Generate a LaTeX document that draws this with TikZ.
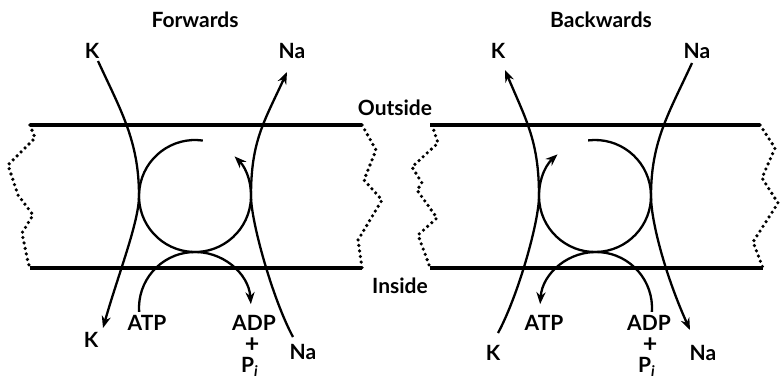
\documentclass[tikz,border=0pt]{standalone}
\usepackage{fontspec}
\setmainfont{Lato}
\usepackage{tikz}
\usetikzlibrary{arrows.meta}

\begin{document}
\begin{tikzpicture}[
  x=0.5pt, y=0.5pt,
  lbl/.style={font=\fontsize{10.5}{12}\selectfont\bfseries, inner sep=0pt},
  arr/.style={-{Stealth[length=6pt, width=4.6pt]}, line width=1.15pt},
  membrane/.style={line width=1.6pt},
  cut/.style={line width=1.8pt, line cap=round, dash pattern=on 0pt off 2.8pt}
]
\useasboundingbox (0,0) rectangle (780,-380);

% Forwards
\node[lbl] (fwd) at (195,-20) {Forwards};
\draw[membrane] (30,-125) -- (362,-125);
\draw[membrane] (30,-268) -- (362,-268);
\draw[cut] (30,-125) -- (35,-138) -- (8,-165) -- (18,-195) -- (33,-215)
  -- (22,-233) -- (28,-262) -- (30,-268);
\draw[cut] (362,-125) -- (376,-150) -- (364,-180) -- (382,-200)
  -- (358,-240) -- (362,-268);

\coordinate (pumpF) at (195,-196);
\coordinate (cupF)  at (195,-308);
\draw[arr] (pumpF) ++(82:56) arc[start angle=82, end angle=405, radius=56];
\draw[arr] (cupF) ++(184:56) arc[start angle=184, end angle=4, radius=56];

\node[lbl] (kFin)   at (92,-51)  {K};
\node[lbl] (kFout)  at (91,-340) {K};
\node[lbl] (naFout) at (292,-51) {Na};
\node[lbl] (naFin)  at (303,-352) {Na};
\node[lbl] (atpF)   at (147,-323) {ATP};
\node[lbl] (adpF)   at (254,-323) {ADP};
\node[lbl, font=\fontsize{12.5}{12.5}\selectfont\bfseries] (plusF) at (252,-345) {+};
\node[lbl] (piF)    at (250,-367) {P\textsubscript{\itshape i}};

\coordinate (kF1) at (98,-61);
\coordinate (kFmid) at (139,-196);
\coordinate (kF2) at (103,-328);
\draw[arr] (kF1) .. controls +(23,-50) and +(0,55) .. (kFmid)
  .. controls +(0,-26) and +(15,53) .. (kF2);

\coordinate (naF1) at (293,-337);
\coordinate (naFmid) at (251,-196);
\coordinate (naF2) at (287,-72);
\draw[arr] (naF1) .. controls +(-20,37) and +(0,-26) .. (naFmid)
  .. controls +(0,55) and +(-23,-50) .. (naF2);

\node[lbl] (outside) at (395,-108) {Outside};
\node[lbl] (inside)  at (400,-286) {Inside};

% Backwards
\node[lbl] (bwd) at (601,-20) {Backwards};
\draw[membrane] (430,-125) -- (760,-125);
\draw[membrane] (430,-268) -- (763,-268);
\draw[cut] (432,-125) -- (438,-143) -- (412,-167) -- (422,-183) -- (417,-190)
  -- (437,-218) -- (418,-235) -- (428,-262) -- (430,-268);
\draw[cut] (760,-125) -- (775,-148) -- (762,-178) -- (778,-203)
  -- (753,-242) -- (763,-268);

\coordinate (pumpB) at (595,-196);
\coordinate (cupB)  at (596,-308);
\draw[arr] (pumpB) ++(97:56) arc[start angle=97, end angle=-228, radius=56];
\draw[arr] (cupB) ++(-4:56) arc[start angle=-4, end angle=176, radius=56];

\node[lbl] (kBout)  at (498,-51)  {K};
\node[lbl] (kBin)   at (493,-353) {K};
\node[lbl] (naBin)  at (697,-51)  {Na};
\node[lbl] (naBout) at (703,-353) {Na};
\node[lbl] (atpB)   at (544,-323) {ATP};
\node[lbl] (adpB)   at (649,-323) {ADP};
\node[lbl, font=\fontsize{12.5}{12.5}\selectfont\bfseries] (plusB) at (650,-345) {+};
\node[lbl] (piB)    at (647,-367) {P\textsubscript{\itshape i}};

\coordinate (kB1) at (498,-333);
\coordinate (kBmid) at (539,-196);
\coordinate (kB2) at (505,-70);
\draw[arr] (kB1) .. controls +(20,37) and +(0,-26) .. (kBmid)
  .. controls +(0,55) and +(21,-50) .. (kB2);

\coordinate (naB1) at (692,-63);
\coordinate (naBmid) at (651,-196);
\coordinate (naB2) at (690,-330);
\draw[arr] (naB1) .. controls +(-23,-50) and +(0,55) .. (naBmid)
  .. controls +(0,-26) and +(-24,53) .. (naB2);
\end{tikzpicture}
\end{document}
